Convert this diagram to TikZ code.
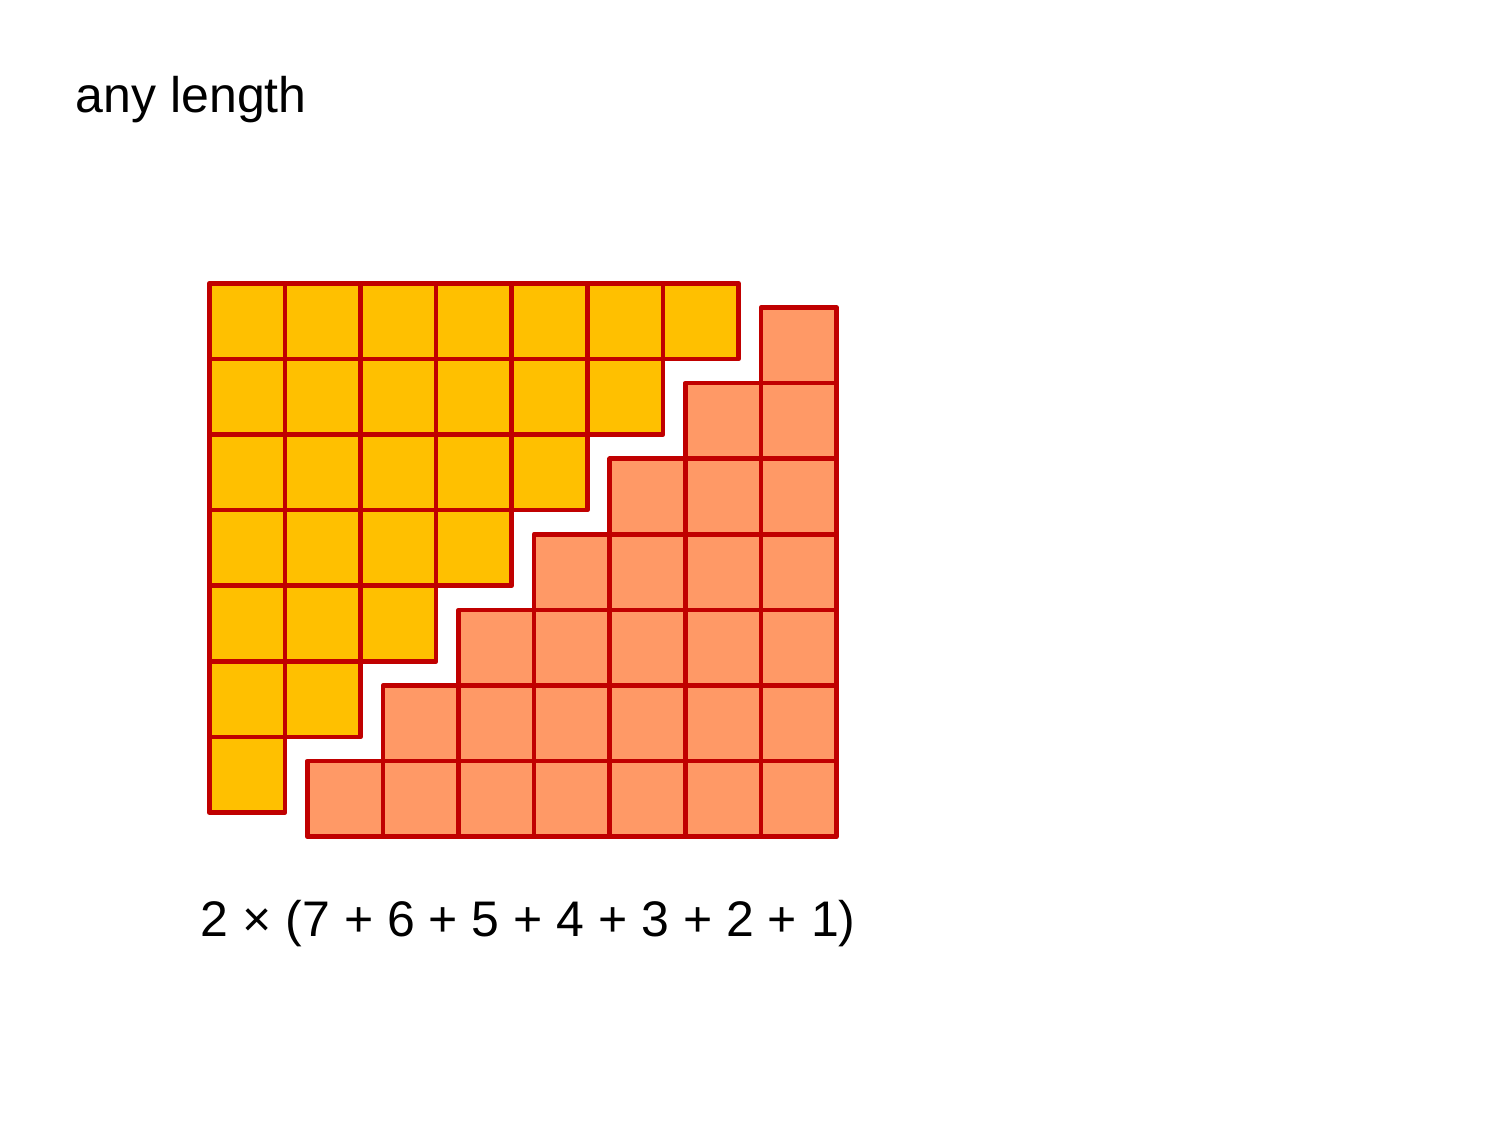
\documentclass[tikz,border=0pt]{standalone}
\usepackage{fontspec}
\setmainfont{Liberation Sans}
\definecolor{cellred}{HTML}{C00000}
\definecolor{cellyellow}{HTML}{FFC000}
\definecolor{cellorange}{HTML}{FF9966}
\begin{document}
\begin{tikzpicture}[x=0.48pt,y=-0.48pt,
  cellbox/.style={draw=cellred,line width=2.25pt,line join=round},
  label/.style={anchor=base west,inner sep=0pt,font=\fontsize{24pt}{28pt}\selectfont}]
\useasboundingbox (0,0) rectangle (1500,1125);
\def\s{75.6}
% yellow staircase (top-left)
\foreach \r in {0,...,6}{
  \pgfmathtruncatemacro{\n}{6-\r}
  \foreach \c in {0,...,\n}{
    \path[cellbox,fill=cellyellow] ({209.3+\c*\s},{283.3+\r*\s}) rectangle ++(\s,\s);
  }
}
% orange staircase (bottom-right)
\foreach \r in {0,...,6}{
  \pgfmathtruncatemacro{\n}{6-\r}
  \foreach \c in {0,...,\n}{
    \path[cellbox,fill=cellorange] ({836.5-(\c+1)*\s},{836.7-(\r+1)*\s}) rectangle ++(\s,\s);
  }
}
\node[label] (title) at (75.5,112.3) {any length};
\node[label] (sum) at (200.5,936) {2 × (7 + 6 + 5 + 4 + 3 + 2 + 1)};
\end{tikzpicture}
\end{document}
